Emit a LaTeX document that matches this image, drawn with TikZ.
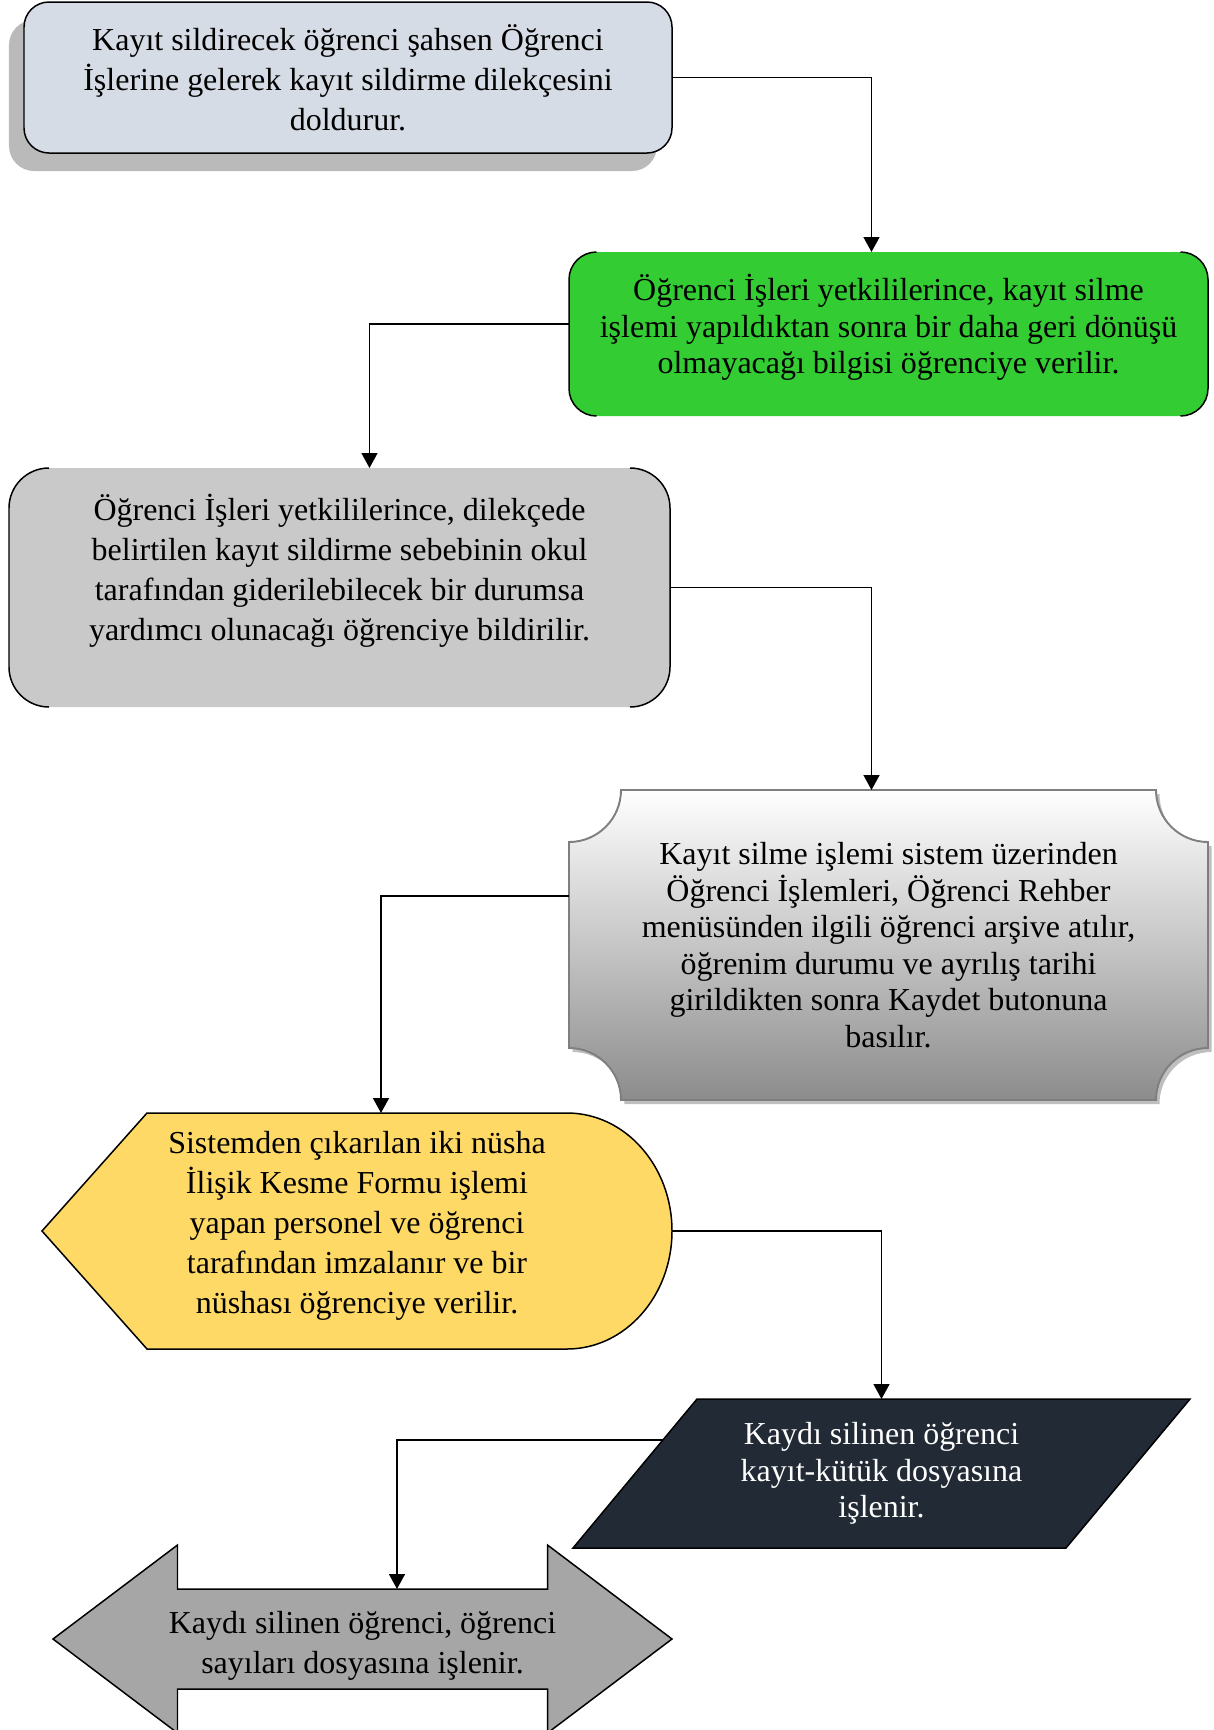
\documentclass[tikz,border=0pt]{standalone}
\usepackage{fontspec}
\setmainfont{Liberation Serif}
\usetikzlibrary{arrows.meta, positioning, calc, backgrounds, shadows}
\definecolor{clrForm}{HTML}{D6DCE5}
\definecolor{clrGreen}{HTML}{33CC33}
\definecolor{clrGrayBox}{HTML}{C9C9C9}
\definecolor{clrPlaqueEdge}{HTML}{7F7F7F}
\definecolor{clrPlaqueLow}{HTML}{8C8C8C}
\definecolor{clrYellow}{HTML}{FFD966}
\definecolor{clrNavy}{HTML}{222A35}
\definecolor{clrArrowBox}{HTML}{A6A6A6}

% outline on the corners and the two sides only
\newcommand{\sideoutline}[2]{%
  \draw[edge] ([xshift=#2]#1.north west) arc[start angle=90, end angle=180, radius=#2] -- ([yshift=#2]#1.south west) arc[start angle=180, end angle=270, radius=#2];
  \draw[edge] ([xshift=-#2]#1.north east) arc[start angle=90, end angle=0, radius=#2] -- ([yshift=#2]#1.south east) arc[start angle=0, end angle=-90, radius=#2];}

\begin{document}
\begin{tikzpicture}[
    stepbox/.style={rectangle, align=center, outer sep=0pt, inner sep=0pt, font=\fontsize{18.2}{22.8}\selectfont},
    tight/.style={font=\fontsize{18.2}{20.8}\selectfont},
    edge/.style={line width=0.85pt, black},
    arrow/.style={-{Triangle[length=8.5pt, width=9pt]}, line width=1.1pt, black},
]
\useasboundingbox (0,0) rectangle (24.28,-34.6);

% Application form
\node[stepbox, draw, line width=0.85pt, fill=clrForm, rounded corners=0.5cm, minimum width=12.96cm, minimum height=3.02cm,
      drop shadow={shadow xshift=-0.3cm, shadow yshift=-0.36cm, fill=black!27, opacity=1}] (apply) at (6.96,-1.55)
      {Kayıt sildirecek öğrenci şahsen Öğrenci\\İşlerine gelerek kayıt sildirme dilekçesini\\doldurur.};

% Information about no return
\node[stepbox, fill=clrGreen, rounded corners=0.55cm, minimum width=12.78cm, minimum height=3.28cm] (warn) at (17.77,-6.68) {};
\node[stepbox, tight] (warntext) at ([yshift=0.13cm]warn.center)
      {Öğrenci İşleri yetkililerince, kayıt silme\\işlemi yapıldıktan sonra bir daha geri dönüşü\\olmayacağı bilgisi öğrenciye verilir.};
\sideoutline{warn}{0.55cm}

% Help offer
\node[stepbox, fill=clrGrayBox, rounded corners=0.8cm, minimum width=13.22cm, minimum height=4.78cm] (help) at (6.79,-11.75) {};
\node[stepbox] (helptext) at ([yshift=0.34cm]help.center)
      {Öğrenci İşleri yetkililerince, dilekçede\\belirtilen kayıt sildirme sebebinin okul\\tarafından giderilebilecek bir durumsa\\yardımcı olunacağı öğrenciye bildirilir.};
\sideoutline{help}{0.8cm}

% System record
\node[stepbox, tight, minimum width=12.78cm, minimum height=6.2cm] (archive) at (17.77,-18.9)
      {Kayıt silme işlemi sistem üzerinden\\Öğrenci İşlemleri, Öğrenci Rehber\\menüsünden ilgili öğrenci arşive atılır,\\öğrenim durumu ve ayrılış tarihi\\girildikten sonra Kaydet butonuna\\basılır.};

% Release form
\node[stepbox, minimum width=12.6cm, minimum height=4.72cm] (form) at (7.14,-24.62) {};
\node[stepbox] (formtext) at ([yshift=0.11cm]form.center)
      {Sistemden çıkarılan iki nüsha\\İlişik Kesme Formu işlemi\\yapan personel ve öğrenci\\tarafından imzalanır ve bir\\nüshası öğrenciye verilir.};

% Register book
\node[stepbox, tight, text=white, minimum width=12.34cm, minimum height=2.98cm] (ledger) at (17.63,-29.47)
      {Kaydı silinen öğrenci\\kayıt-kütük dosyasına\\işlenir.};

% Student count
\node[stepbox, minimum width=12.38cm, minimum height=2cm] (count) at (7.25,-32.78) {};
\node[stepbox] (counttext) at ([yshift=-0.13cm]count.center)
      {Kaydı silinen öğrenci, öğrenci\\sayıları dosyasına işlenir.};

\begin{scope}[on background layer]
\path[draw=clrPlaqueEdge, line width=1.1pt, top color=white, bottom color=clrPlaqueLow,
      drop shadow={shadow xshift=0.07cm, shadow yshift=-0.08cm, fill=black!25, opacity=1}]
  ([xshift=1.04cm]archive.north west) -- ([xshift=-1.04cm]archive.north east)
  arc[start angle=180, end angle=270, radius=1.04cm] -- ([yshift=1.04cm]archive.south east)
  arc[start angle=90, end angle=180, radius=1.04cm] -- ([xshift=1.04cm]archive.south west)
  arc[start angle=0, end angle=90, radius=1.04cm] -- ([yshift=-1.04cm]archive.north west)
  arc[start angle=270, end angle=360, radius=1.04cm] -- cycle;
\path[edge, draw, fill=clrYellow] (form.west) -- ([xshift=2.1cm]form.north west) -- ([xshift=-2.1cm]form.north east)
  arc[start angle=90, end angle=-90, x radius=2.1cm, y radius=2.36cm] -- ([xshift=2.1cm]form.south west) -- cycle;
\path[edge, draw, fill=clrNavy] ([xshift=2.48cm]ledger.north west) -- (ledger.north east)
  -- ([xshift=-2.48cm]ledger.south east) -- (ledger.south west) -- cycle;
\path[edge, draw, fill=clrArrowBox, shift={(count.center)}] (-6.19,0) -- (-3.7,1.88) -- (-3.7,1) -- (3.7,1) -- (3.7,1.88)
  -- (6.19,0) -- (3.7,-1.88) -- (3.7,-1) -- (-3.7,-1) -- (-3.7,-1.88) -- cycle;
\end{scope}

% Flow
\draw[arrow] (apply.east) -| ([xshift=-0.34cm]warn.north);
\draw[arrow] ([yshift=0.2cm]warn.west) -| ([xshift=0.6cm]help.north);
\draw[arrow] (help.east) -| ([xshift=-0.34cm]archive.north);
\draw[arrow] ([yshift=0.98cm]archive.west) -| ([xshift=0.48cm]form.north);
\draw[arrow] (form.east) -| (ledger.north);
\coordinate (ledgerexit) at ($(ledger.south west)!0.725!([xshift=2.48cm]ledger.north west)$);
\draw[arrow] (ledgerexit) -| ([xshift=0.69cm]count.north);

\end{tikzpicture}
\end{document}
